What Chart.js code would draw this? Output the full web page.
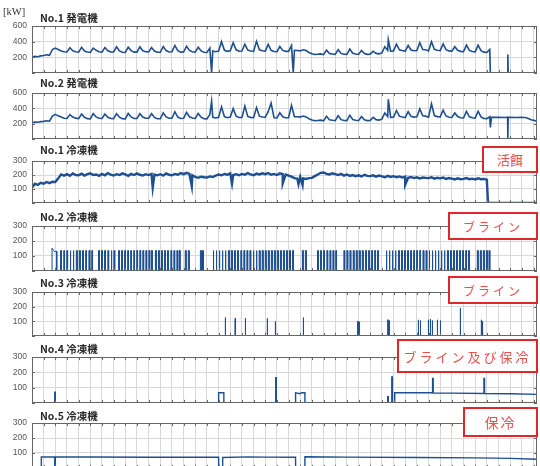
<!DOCTYPE html>
<html>
<head>
<meta charset="utf-8">
<script src="https://cdn.jsdelivr.net/npm/chart.js@4.4.1/dist/chart.umd.min.js"></script>
<style>
  html, body { margin: 0; padding: 0; background: #fff; }
  #wrap { position: relative; width: 540px; height: 466px; overflow: hidden; font-family: "Noto Sans CJK JP", "Noto Sans", sans-serif; }
  #wrap canvas { position: absolute; left: 0; }
  .ttl { position: absolute; left: 40px; font-size: 10.5px; font-weight: 700; color: #2a2a2a; line-height: 12px; white-space: nowrap; }
  .unit { position: absolute; left: 3px; top: 6px; font-family: "Liberation Serif", serif; font-size: 10.5px; color: #333; line-height: 11px; }
  .tag { position: absolute; box-sizing: border-box; border: 2px solid #e0282a; background: #fff; color: #e8504c; display: flex; align-items: center; justify-content: center; white-space: nowrap; }
</style>
</head>
<body>
<div id="wrap">
  <div class="unit">[kW]</div>
  <div class="ttl" style="top:12px">No.1 発電機</div>
  <div class="ttl" style="top:77px">No.2 発電機</div>
  <div class="ttl" style="top:144px">No.1 冷凍機</div>
  <div class="ttl" style="top:211px">No.2 冷凍機</div>
  <div class="ttl" style="top:277px">No.3 冷凍機</div>
  <div class="ttl" style="top:343px">No.4 冷凍機</div>
  <div class="ttl" style="top:410px">No.5 冷凍機</div>
  <div class="tag" style="left:482px;top:146px;width:56px;height:27px;font-size:13px;">活餌</div>
  <div class="tag" style="left:448px;top:212px;width:90px;height:28px;font-size:12px;letter-spacing:3px;">ブライン</div>
  <div class="tag" style="left:448px;top:276px;width:90px;height:28px;font-size:12px;letter-spacing:3px;">ブライン</div>
  <div class="tag" style="left:397px;top:339px;width:141px;height:34px;font-size:13px;letter-spacing:3px;">ブライン及び保冷</div>
  <div class="tag" style="left:463px;top:407px;width:75px;height:30px;font-size:14px;letter-spacing:2px;">保冷</div>
</div>
<script>
// time axis in days, samples every quarter day
var X_MAX = 43.3;
var SAMPLE_STEP = 0.25;

// No.1 発電機 [kW], 4 samples per day
var gen1Values = [
  200, 212, 208, 218,  222, 232, 226, 300,  318, 300, 282, 272,  268, 322, 284, 270,
  266, 328, 280, 268,  262, 318, 290, 272,  266, 326, 284, 270,  268, 334, 282, 264,
  262, 330, 286, 266,  266, 334, 284, 272,  270, 326, 280, 264,  264, 338, 286, 268,
  272, 352, 284, 266,  268, 342, 288, 272,  266, 330, 282, 264,  262, 318, 280, 272,
  280, 400, 290, 276,  284, 388, 296, 278,  280, 368, 292, 280,  276, 405, 296, 284,
  280, 366, 290, 274,  272, 338, 288, 276,  276, 350, 290, 288,  282, 296, 286, 262,
  246, 236, 240, 244,  234, 292, 248, 242,  236, 298, 250, 240,  238, 306, 252, 242,
  236, 288, 248, 238,  240, 278, 250, 244,  256, 336, 290, 278,  282, 368, 296, 286,
  278, 352, 294, 284,  288, 388, 300, 296,  282, 400, 302, 290,  286, 372, 298, 282,
  278, 336, 290, 276,  272, 356, 288, 274,  270, 356, 286, 266,  262, 300
];
var gen1Extra = [[15.4, 0], [22.4, 0], [30.55, 425], [39.3, 0], [40.78, 0], [40.8, 235], [40.83, 0], [43.3, 0]];

// No.2 発電機 [kW]
var gen2Values = [
  210, 222, 218, 226,  230, 238, 232, 300,  322, 302, 286, 270,  268, 318, 286, 272,
  266, 326, 282, 266,  262, 330, 288, 270,  268, 326, 284, 268,  266, 330, 284, 264,
  262, 334, 288, 268,  268, 330, 286, 270,  272, 330, 282, 264,  264, 342, 288, 270,
  270, 356, 286, 268,  270, 348, 290, 274,  268, 334, 284, 264,  262, 320, 282, 274,
  282, 420, 292, 278,  286, 396, 298, 280,  282, 430, 294, 282,  278, 410, 298, 286,
  284, 356, 470, 278,  274, 342, 290, 278,  278, 440, 292, 290,  286, 300, 288, 264,
  248, 238, 242, 246,  236, 296, 250, 244,  238, 304, 252, 242,  240, 310, 254, 244,
  238, 292, 250, 240,  242, 282, 252, 246,  258, 340, 292, 282,  284, 372, 298, 288,
  280, 356, 296, 286,  290, 392, 302, 298,  284, 460, 306, 292,  288, 376, 300, 284,
  280, 340, 292, 278,  274, 360, 290, 276,  272, 362, 288, 268,  266, 290
];
var gen2Extra = [[15.4, 495], [30.55, 520], [39.3, 150], [39.4, 282], [40.0, 284], [40.5, 280], [40.78, 282],
  [40.8, 0], [40.83, 282], [41.5, 280], [42.0, 283], [42.4, 278], [42.8, 252], [43.3, 232]];

// No.1 冷凍機 [kW]
var ref1Values = [
  110, 138, 130, 144,  138, 150, 142, 152,  150, 176, 204, 196,  206, 194, 212, 200,
  198, 210, 196, 206,  212, 200, 204, 194,  208, 198, 214, 202,  196, 206, 200, 212,
  204, 194, 208, 200,  212, 202, 196, 206,  200, 208, 204, 198,  206, 196, 212, 202,
  198, 208, 202, 214,  206, 216, 208, 198,  186, 180, 188, 184,  182, 190, 186, 196,
  204, 198, 208, 202,  212, 200, 206, 198,  208, 202, 214, 204,  198, 210, 204, 212,
  206, 214, 202, 208,  200, 212, 206, 204,  196, 188, 178, 174,  186, 176, 172, 178,
  180, 192, 204, 216,  218, 208, 204, 212,  206, 200, 208, 196,  204, 194, 200, 192,
  198, 190, 202, 194,  192, 198, 188, 196,  190, 184, 194, 186,  192, 184, 190, 182,
  188, 180, 186, 178,  184, 176, 182, 180,  178, 184, 174, 180,  176, 182, 172, 178,
  174, 168, 176, 170,  172, 178, 170, 174,  168, 176, 170, 172,  166
];
var ref1Extra = [[10.35, 110], [13.7, 120], [17.15, 140], [21.5, 140], [22.85, 135], [23.2, 128], [32.0, 130], [39.1, 0], [43.3, 0]];

// No.2 冷凍機: on/off cycling [start day, stop day]
var ref2Top = 136;
var ref2Lead = [[1.72, 0], [1.72, 152], [1.82, 140], [1.95, 128], [2.12, 132], [2.12, 0]];
var ref2Pulses = [
  [2.45, 2.52], [2.72, 2.79], [2.98, 3.05], [3.26, 3.33], [3.52, 3.59], [3.8, 3.87], [4.06, 4.13], [4.33, 4.4], [4.6, 4.67], [4.88, 4.95], [5.12, 5.19],
  [5.7, 5.77], [5.96, 6.03], [6.22, 6.29], [6.5, 6.57], [6.78, 6.85], [7.02, 7.09],
  [7.42, 7.49], [7.68, 7.75], [7.94, 8.01], [8.2, 8.27], [8.46, 8.53], [8.72, 8.79], [8.98, 9.05], [9.24, 9.31], [9.5, 9.57], [9.76, 9.83], [10.02, 10.09], [10.24, 10.31],
  [10.58, 10.65], [10.84, 10.91], [11.1, 11.17], [11.36, 11.43], [11.62, 11.69], [11.9, 11.97], [12.16, 12.23], [12.42, 12.49], [12.62, 12.69],
  [13.14, 13.21], [13.4, 13.47], [14.44, 14.51], [14.62, 14.69],
  [15.52, 15.59], [15.78, 15.85], [16.04, 16.11], [16.3, 16.37], [16.56, 16.63], [16.84, 16.91], [17.1, 17.17], [17.36, 17.43], [17.62, 17.69], [17.9, 17.97],
  [18.16, 18.23], [18.42, 18.49], [18.68, 18.75], [18.96, 19.03], [19.22, 19.29], [19.48, 19.55], [19.74, 19.81], [20.0, 20.07], [20.26, 20.33],
  [20.52, 20.59], [20.78, 20.85], [21.04, 21.11], [21.3, 21.37], [21.56, 21.63], [21.82, 21.89], [22.08, 22.15], [22.34, 22.41],
  [23.18, 23.25], [23.44, 23.51],
  [24.48, 24.55], [24.74, 24.81], [25.0, 25.07], [25.28, 25.35], [25.54, 25.61], [25.8, 25.87], [26.04, 26.11],
  [26.74, 26.81], [27.0, 27.07], [27.26, 27.33], [27.54, 27.61], [27.8, 27.87], [28.06, 28.13], [28.32, 28.39], [28.6, 28.67], [28.86, 28.93], [29.12, 29.19], [29.38, 29.45], [29.62, 29.69],
  [30.36, 30.43], [30.62, 30.69], [30.88, 30.95], [31.14, 31.21], [31.42, 31.49], [31.68, 31.75], [31.94, 32.01], [32.2, 32.27], [32.46, 32.53], [32.72, 32.79],
  [32.98, 33.05], [33.24, 33.31], [33.52, 33.59], [33.78, 33.85], [34.04, 34.11], [34.3, 34.37], [34.56, 34.63], [34.82, 34.89], [35.08, 35.15], [35.34, 35.41],
  [35.62, 35.69], [35.88, 35.95], [36.14, 36.21], [36.4, 36.47], [36.66, 36.73], [36.92, 36.99], [37.18, 37.25], [37.42, 37.49],
  [38.18, 38.25], [38.44, 38.51], [38.7, 38.77], [38.96, 39.03], [39.18, 39.25]
];

// No.3 冷凍機: short runs [day, kW]
var ref3Spikes = [
  [16.55, 125], [17.4, 120], [18.27, 122], [20.15, 120], [20.84, 100], [23.24, 125],
  [27.92, 100], [28.05, 96], [30.5, 110], [30.62, 104], [33.1, 110], [33.28, 105],
  [33.96, 110], [34.13, 115], [34.3, 105], [34.73, 110], [34.99, 105], [36.7, 190],
  [38.5, 110], [38.6, 100]
];

// No.4 冷凍機 [day, kW]
var ref4Points = [
  [0, 0], [1.95, 0], [1.95, 70], [2.0, 70], [2.0, 0], [16.0, 0], [16.0, 66], [16.45, 66], [16.45, 0],
  [20.9, 0], [20.9, 165], [20.95, 165], [20.95, 0], [22.6, 0], [22.6, 66], [23.0, 60], [23.1, 66], [23.4, 66], [23.4, 0],
  [30.5, 0], [30.5, 40], [30.55, 40], [30.55, 0], [30.85, 0], [30.85, 170], [30.9, 170], [30.9, 0], [31.1, 0], [31.1, 66],
  [34.35, 66], [34.35, 160], [34.4, 160], [34.4, 64], [36.0, 64], [38.75, 62], [38.75, 160], [38.8, 160], [38.8, 62],
  [41.0, 60], [43.3, 56]
];

// No.5 冷凍機 [day, kW]
var ref5Points = [
  [0, 0], [0.8, 0], [0.8, 73], [1.95, 73], [1.95, 0], [2.0, 0], [2.0, 74], [5.0, 73], [10.0, 71], [16.0, 72], [16.0, 0],
  [16.35, 0], [16.35, 70], [18.5, 74], [20.0, 72], [22.6, 71], [22.6, 0], [23.4, 0], [23.4, 75], [27.0, 72], [33.0, 70],
  [38.0, 67], [41.0, 64], [43.3, 58]
];

var LINE = "#1d4f91";
var GRID = "#d8d8d8";
var FRAME = "#666";

function sampled(values, extra) {
  var pts = values.map(function (v, i) {
    return { x: i * SAMPLE_STEP, y: v };
  });
  extra.forEach(function (p) {
    pts.push({ x: p[0], y: p[1] });
  });
  pts.sort(function (a, b) { return a.x - b.x; });
  return pts;
}

function toPoints(pairs) {
  return pairs.map(function (p) { return { x: p[0], y: p[1] }; });
}

function pulses(lead, list, top) {
  var pts = [{ x: 0, y: 0 }].concat(toPoints(lead));
  list.forEach(function (p) {
    pts.push({ x: p[0], y: 0 }, { x: p[0], y: top }, { x: p[1], y: top }, { x: p[1], y: 0 });
  });
  pts.push({ x: X_MAX, y: 0 });
  return pts;
}

function spikes(list) {
  var pts = [{ x: 0, y: 0 }];
  list.forEach(function (s) {
    pts.push({ x: s[0], y: 0 }, { x: s[0], y: s[1] }, { x: s[0] + 0.05, y: s[1] }, { x: s[0] + 0.05, y: 0 });
  });
  pts.push({ x: X_MAX, y: 0 });
  return pts;
}

var framePlugin = {
  id: "frame",
  afterDraw: function (chart) {
    var a = chart.chartArea;
    var ctx = chart.ctx;
    var xs = chart.scales.x;
    var ys = chart.scales.y;
    ctx.save();
    ctx.strokeStyle = FRAME;
    ctx.lineWidth = 1;
    ctx.strokeRect(Math.round(a.left) + 0.5, Math.round(a.top) + 0.5, Math.round(a.right - a.left) - 1, Math.round(a.bottom - a.top) - 1);
    ctx.beginPath();
    xs.ticks.forEach(function (t) {
      var x = Math.round(xs.getPixelForValue(t.value)) + 0.5;
      ctx.moveTo(x, a.top);
      ctx.lineTo(x, a.top + 3);
      ctx.moveTo(x, a.bottom);
      ctx.lineTo(x, a.bottom - 3);
    });
    ys.ticks.forEach(function (t) {
      var y = Math.round(ys.getPixelForValue(t.value)) + 0.5;
      ctx.moveTo(a.left, y);
      ctx.lineTo(a.left + 3, y);
      ctx.moveTo(a.right, y);
      ctx.lineTo(a.right - 3, y);
    });
    ctx.stroke();
    ctx.restore();
  }
};

var PAD = 8;
var panels = [
  { top: 24, bottom: 75, yMax: 600, yStep: 100, labelStep: 200, width: 1.6, data: sampled(gen1Values, gen1Extra) },
  { top: 91, bottom: 141, yMax: 600, yStep: 100, labelStep: 200, width: 1.6, data: sampled(gen2Values, gen2Extra) },
  { top: 159, bottom: 205, yMax: 300, yStep: 50, labelStep: 100, width: 2.4, data: sampled(ref1Values, ref1Extra) },
  { top: 224, bottom: 273, yMax: 300, yStep: 50, labelStep: 100, width: 1, data: pulses(ref2Lead, ref2Pulses, ref2Top) },
  { top: 290, bottom: 338, yMax: 300, yStep: 50, labelStep: 100, width: 1, data: spikes(ref3Spikes) },
  { top: 355, bottom: 405, yMax: 300, yStep: 50, labelStep: 100, width: 1.4, data: toPoints(ref4Points) },
  { top: 421, bottom: 470, yMax: 300, yStep: 50, labelStep: 100, width: 1.4, data: toPoints(ref5Points) }
];

function makePanel(p) {
  var wrap = document.getElementById("wrap");
  var canvas = document.createElement("canvas");
  canvas.width = 540;
  canvas.height = p.bottom - p.top + PAD * 2;
  canvas.style.top = (p.top - PAD) + "px";
  wrap.insertBefore(canvas, wrap.firstChild);
  new Chart(canvas, {
    type: "line",
    data: {
      datasets: [{
        data: p.data,
        borderColor: LINE,
        borderWidth: p.width,
        pointRadius: 0,
        tension: 0,
        fill: false
      }]
    },
    plugins: [framePlugin],
    options: {
      responsive: false,
      animation: false,
      parsing: false,
      layout: { padding: { top: PAD, bottom: PAD, left: 0, right: 3 } },
      plugins: { legend: { display: false }, tooltip: { enabled: false } },
      scales: {
        x: {
          type: "linear",
          min: 0,
          max: X_MAX,
          ticks: { display: false, stepSize: 1, includeBounds: false },
          grid: { color: GRID, drawTicks: false },
          border: { display: false },
          afterFit: function (scale) { scale.height = 0; }
        },
        y: {
          min: 0,
          max: p.yMax,
          ticks: {
            stepSize: p.yStep,
            padding: 5,
            color: "#555",
            font: { family: "Liberation Sans", size: 8.5 },
            callback: function (v) { return v > 0 && v % p.labelStep === 0 ? v : ""; }
          },
          grid: { color: GRID, drawTicks: false },
          border: { display: false },
          afterFit: function (scale) { scale.width = 32; }
        }
      }
    }
  });
}

panels.forEach(makePanel);
</script>
</body>
</html>
